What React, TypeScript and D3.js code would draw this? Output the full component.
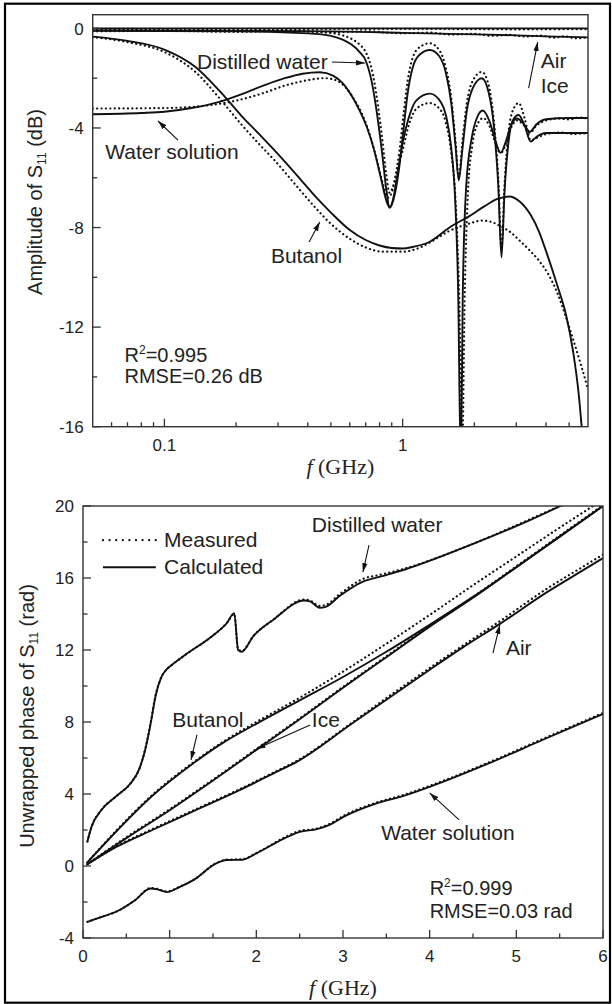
import * as d3 from 'd3'
import { useEffect, useRef } from 'react'

type Pt = [number, number]

// ---------- top panel: amplitude of S11 (dB) vs f (GHz, log axis)
const airAmpCalc: Pt[] = [[0.05, 0], [0.5, 0], [2, 0], [6, 0]]
const airAmpMeas: Pt[] = [[0.05, -0.02], [0.3, -0.03], [1, -0.02], [3, -0.04], [6, -0.03]]

const iceAmpCalc: Pt[] = [[0.05, -0.08], [0.2, -0.1], [0.5, -0.12], [1, -0.18], [2, -0.24], [3, -0.28], [4, -0.32], [6, -0.36]]
const iceAmpMeas: Pt[] = [
  [0.05, -0.12], [0.1, -0.1], [0.2, -0.14], [0.35, -0.1], [0.5, -0.16], [0.7, -0.12], [1, -0.2], [1.3, -0.17],
  [1.6, -0.25], [2, -0.22], [2.4, -0.3], [2.8, -0.26], [3.3, -0.33], [3.8, -0.29], [4.3, -0.37], [4.8, -0.32],
  [5.3, -0.4], [6, -0.36]
]

const distilledAmpCalc: Pt[] = [
  [0.05, -0.1], [0.2, -0.12], [0.4, -0.2], [0.5, -0.3], [0.56, -0.45], [0.61, -0.65], [0.66, -0.95], [0.7, -1.3],
  [0.74, -2.1], [0.78, -3.4], [0.82, -5.0], [0.855, -6.5], [0.88, -7.2], [0.93, -6.6], [0.97, -5.5], [1.01, -4.0],
  [1.05, -2.6], [1.1, -1.6], [1.18, -1.05], [1.3, -0.87], [1.42, -1.1], [1.52, -1.8], [1.6, -3.0], [1.67, -4.8],
  [1.72, -6.1], [1.78, -4.9], [1.86, -3.3], [1.97, -2.4], [2.15, -2.0], [2.3, -2.6], [2.42, -4.0], [2.52, -6.3],
  [2.6, -9.2], [2.68, -6.5], [2.78, -4.6], [2.9, -3.7], [3.07, -3.48], [3.25, -3.9], [3.45, -4.55], [3.65, -4.35],
  [4.0, -4.2], [5, -4.2], [6, -4.2]
]
const distilledAmpMeas: Pt[] = [
  [0.05, -0.05], [0.2, -0.08], [0.4, -0.12], [0.5, -0.18], [0.56, -0.28], [0.61, -0.42], [0.66, -0.65], [0.7, -0.95],
  [0.74, -1.6], [0.78, -2.8], [0.82, -4.4], [0.855, -5.9], [0.88, -6.6], [0.93, -6.0], [0.97, -4.9], [1.01, -3.4],
  [1.05, -2.1], [1.1, -1.2], [1.18, -0.75], [1.3, -0.6], [1.42, -0.85], [1.52, -1.6], [1.6, -2.8], [1.67, -4.6],
  [1.72, -6.0], [1.78, -4.6], [1.86, -3.0], [1.97, -2.1], [2.15, -1.75], [2.3, -2.3], [2.42, -3.8], [2.52, -6.0],
  [2.6, -8.8], [2.68, -6.2], [2.78, -4.2], [2.9, -3.3], [3.07, -3.0], [3.25, -3.6], [3.45, -4.5], [3.65, -4.4],
  [4.0, -4.25], [4.6, -4.18], [5.2, -4.24], [6, -4.2]
]

const waterAmpCalc: Pt[] = [
  [0.05, -3.45], [0.08, -3.4], [0.1, -3.35], [0.13, -3.2], [0.17, -2.95], [0.21, -2.65], [0.26, -2.3], [0.32, -2.0],
  [0.38, -1.82], [0.45, -1.76], [0.51, -1.9], [0.56, -2.2], [0.61, -2.7], [0.66, -3.3], [0.71, -4.0], [0.76, -4.9],
  [0.81, -6.0], [0.86, -7.0], [0.885, -7.2], [0.91, -6.9], [0.95, -5.9], [1.0, -4.6], [1.06, -3.6], [1.14, -2.9],
  [1.3, -2.62], [1.42, -2.85], [1.52, -3.5], [1.6, -4.8], [1.66, -6.8], [1.71, -10.5], [1.755, -17.5], [1.79, -10.5],
  [1.85, -6.3], [1.95, -4.4], [2.05, -3.6], [2.17, -3.3], [2.32, -3.75], [2.45, -4.5], [2.58, -5.0], [2.7, -4.6],
  [2.85, -3.9], [3.02, -3.62], [3.2, -3.8], [3.42, -4.15], [3.65, -3.85], [4.0, -3.65], [5, -3.6], [6, -3.6]
]
const waterAmpMeas: Pt[] = [
  [0.05, -3.22], [0.1, -3.2], [0.15, -3.1], [0.2, -2.9], [0.26, -2.6], [0.32, -2.3], [0.4, -2.08], [0.47, -2.0],
  [0.53, -2.1], [0.58, -2.4], [0.63, -2.9], [0.68, -3.5], [0.73, -4.3], [0.78, -5.3], [0.83, -6.3], [0.87, -6.8],
  [0.9, -6.6], [0.94, -5.9], [1.0, -4.9], [1.06, -3.9], [1.15, -3.2], [1.3, -3.0], [1.42, -3.2], [1.52, -3.8],
  [1.6, -5.0], [1.67, -7.0], [1.73, -11], [1.78, -17], [1.82, -11], [1.88, -6.6], [1.96, -4.7], [2.05, -3.9],
  [2.18, -3.6], [2.32, -3.95], [2.45, -4.6], [2.58, -5.0], [2.7, -4.7], [2.85, -4.0], [3.02, -3.7], [3.2, -3.85],
  [3.42, -4.2], [3.65, -3.9], [4, -3.7], [4.5, -3.62], [5, -3.66], [5.5, -3.58], [6, -3.62]
]

const butanolAmpCalc: Pt[] = [
  [0.05, -0.33], [0.07, -0.5], [0.1, -0.85], [0.135, -1.55], [0.17, -2.5], [0.21, -3.5], [0.25, -4.25], [0.29, -4.9],
  [0.36, -5.9], [0.43, -6.75], [0.5, -7.4], [0.6, -8.1], [0.7, -8.5], [0.8, -8.72], [0.9, -8.82], [1.0, -8.84],
  [1.1, -8.78], [1.3, -8.57], [1.6, -7.95], [1.9, -7.55], [2.2, -7.15], [2.5, -6.85], [2.8, -6.75], [3.1, -6.95],
  [3.45, -7.5], [3.75, -8.2], [4.05, -9.1], [4.45, -10.3], [4.85, -11.5], [5.2, -13.0], [5.5, -14.8], [5.7, -16.5],
  [6, -19]
]
const butanolAmpMeas: Pt[] = [
  [0.05, -0.35], [0.07, -0.55], [0.1, -0.95], [0.135, -1.75], [0.17, -2.8], [0.21, -3.85], [0.25, -4.65], [0.29, -5.3],
  [0.36, -6.35], [0.43, -7.2], [0.5, -7.85], [0.6, -8.45], [0.7, -8.8], [0.83, -8.97], [1.0, -8.97], [1.15, -8.85],
  [1.3, -8.6], [1.56, -8.15], [1.89, -7.85], [2.16, -7.72], [2.4, -7.8], [2.6, -7.97], [2.85, -8.2], [3.08, -8.5],
  [3.4, -8.9], [3.75, -9.35], [4.1, -9.9], [4.45, -10.6], [4.85, -11.6], [5.2, -12.5], [5.6, -13.5], [6, -14.5]
]

const ampMajor = [0, -4, -8, -12, -16]
const ampMinor = [-2, -6, -10, -14]
const logMajor = [0.1, 1]
const logMinor = [0.06, 0.07, 0.08, 0.09, 0.2, 0.3, 0.4, 0.5, 0.6, 0.7, 0.8, 0.9, 2, 3, 4, 5]

const ampLabels = [
  { text: 'Distilled water', f: 0.137, v: -1.63 },
  { text: 'Air', f: 3.8, v: -1.6 },
  { text: 'Ice', f: 3.8, v: -2.6 },
  { text: 'Water solution', f: 0.0564, v: -5.25 },
  { text: 'Butanol', f: 0.28, v: -9.43 }
]
const ampArrows: Pt[][] = [
  [[0.505, -1.35], [0.695, -1.39]],
  [[3.38, -2.4], [3.69, -0.55]],
  [[0.114, -4.49], [0.094, -3.72]],
  [[0.405, -8.58], [0.449, -7.78]]
]
const ampFit = { r2: '0.995', rmse: '0.26 dB', f: 0.068, v: -13.4 }

// ---------- bottom panel: unwrapped phase of S11 (rad) vs f (GHz)
const airPhaseCalc: Pt[] = [
  [0.05, 0.1], [0.39, 1.07], [0.8, 2.0], [1.3, 3.1], [1.8, 4.2], [2.2, 5.15], [2.47, 5.8], [3.1, 7.9], [3.55, 9.4],
  [4.0, 10.9], [4.4, 12.2], [4.81, 13.45], [5.35, 15.2], [5.69, 16.2], [6.0, 17.1]
]
const airPhaseMeas: Pt[] = [
  [0.05, 0.1], [0.39, 1.1], [0.8, 2.05], [1.3, 3.15], [1.8, 4.25], [2.2, 5.2], [2.47, 5.85], [3.1, 7.95], [3.55, 9.5],
  [4.0, 11.0], [4.4, 12.3], [4.81, 13.6], [5.35, 15.4], [5.69, 16.4], [6.0, 17.3]
]

const icePhaseCalc: Pt[] = [
  [0.05, 0.1], [0.5, 1.55], [1.0, 3.1], [1.5, 4.75], [2.0, 6.45], [2.5, 8.15], [3.0, 9.9], [3.5, 11.6], [4.0, 13.3],
  [4.5, 14.9], [5.0, 16.6], [5.5, 18.3], [6.0, 20.0]
]
const icePhaseMeas: Pt[] = [
  [0.05, 0.1], [0.5, 1.6], [1.0, 3.15], [1.5, 4.8], [2.0, 6.5], [2.5, 8.2], [3.0, 9.95], [3.5, 11.65], [4.0, 13.35],
  [4.5, 14.95], [5.0, 16.65], [5.5, 18.35], [6.0, 20.05]
]

const distilledPhaseCalc: Pt[] = [
  [0.05, 1.35], [0.1, 2.2], [0.21, 3.1], [0.39, 3.9], [0.55, 4.6], [0.65, 5.4], [0.72, 6.5], [0.78, 7.9], [0.84, 9.5],
  [0.9, 10.45], [0.96, 10.9], [1.02, 11.15], [1.2, 11.8], [1.47, 12.7], [1.66, 13.5], [1.745, 14.05], [1.79, 12.0],
  [1.83, 11.9], [1.97, 12.8], [2.2, 13.7], [2.55, 14.75], [2.62, 14.7], [2.73, 14.35], [2.8, 14.4], [2.96, 15.0],
  [3.23, 15.8], [3.45, 16.1], [3.73, 16.5], [4.45, 17.8], [5.15, 19.2], [5.55, 20.1]
]
const distilledPhaseMeas: Pt[] = [
  [0.05, 1.35], [0.1, 2.2], [0.21, 3.1], [0.39, 3.9], [0.55, 4.6], [0.65, 5.4], [0.72, 6.55], [0.78, 7.95], [0.84, 9.55],
  [0.9, 10.45], [0.96, 10.9], [1.02, 11.15], [1.2, 11.8], [1.47, 12.7], [1.66, 13.5], [1.745, 14.0], [1.79, 12.05],
  [1.83, 11.95], [1.97, 12.8], [2.2, 13.7], [2.55, 14.8], [2.62, 14.75], [2.73, 14.45], [2.8, 14.5], [2.96, 15.1],
  [3.23, 15.95], [3.45, 16.2], [3.73, 16.55], [4.45, 17.8], [5.15, 19.25], [5.55, 20.1]
]

const butanolPhaseCalc: Pt[] = [
  [0.05, 0.2], [0.4, 2.0], [0.8, 3.9], [1.27, 5.7], [1.6, 6.8], [2.0, 7.9], [2.5, 9.2], [3.0, 10.5], [3.5, 11.9],
  [4.0, 13.4], [4.5, 14.95], [5.0, 16.6], [5.5, 18.3], [6.0, 20.0]
]
const butanolPhaseMeas: Pt[] = [
  [0.05, 0.2], [0.4, 2.05], [0.8, 3.95], [1.27, 5.75], [1.6, 6.85], [2.0, 8.0], [2.5, 9.35], [3.0, 10.8], [3.5, 12.35],
  [4.0, 13.95], [4.5, 15.6], [5.0, 17.2], [5.5, 18.8], [5.9, 20.05]
]

const waterPhaseCalc: Pt[] = [
  [0.05, -3.1], [0.2, -2.85], [0.4, -2.5], [0.6, -1.9], [0.78, -1.25], [0.86, -1.3], [0.97, -1.45], [1.1, -1.2],
  [1.3, -0.7], [1.52, 0.1], [1.66, 0.33], [1.84, 0.35], [2.0, 0.7], [2.33, 1.55], [2.5, 1.9], [2.7, 2.05],
  [2.85, 2.3], [3.01, 2.74], [3.37, 3.45], [3.7, 3.9], [4.0, 4.4], [4.68, 5.7], [5.3, 7.0], [6.0, 8.45]
]
const waterPhaseMeas: Pt[] = [
  [0.05, -3.1], [0.2, -2.85], [0.4, -2.5], [0.6, -1.9], [0.78, -1.22], [0.86, -1.28], [0.97, -1.42], [1.1, -1.18],
  [1.3, -0.7], [1.52, 0.12], [1.66, 0.35], [1.84, 0.38], [2.0, 0.72], [2.33, 1.6], [2.5, 1.95], [2.7, 2.08],
  [2.85, 2.35], [3.01, 2.8], [3.37, 3.5], [3.7, 3.95], [4.0, 4.45], [4.68, 5.75], [5.3, 7.05], [6.0, 8.5]
]

const phaseMajor = [20, 16, 12, 8, 4, 0, -4]
const phaseMinor = [18, 14, 10, 6, 2, -2]
const freqMajor = [0, 1, 2, 3, 4, 5, 6]
const freqMinor = [0.5, 1.5, 2.5, 3.5, 4.5, 5.5]

const phaseLabels = [
  { text: 'Distilled water', f: 2.64, v: 18.56 },
  { text: 'Butanol', f: 1.03, v: 7.72 },
  { text: 'Ice', f: 2.64, v: 7.72 },
  { text: 'Air', f: 4.88, v: 11.72 },
  { text: 'Water solution', f: 3.44, v: 1.44 }
]
const phaseArrows: Pt[][] = [
  [[3.3, 17.83], [3.23, 16.33]],
  [[1.315, 7.28], [1.246, 5.89]],
  [[2.62, 7.83], [2.0, 6.5]],
  [[4.73, 11.83], [4.81, 13.39]],
  [[4.34, 2.56], [4.0, 4.06]]
]
const phaseFit = { r2: '0.999', rmse: '0.03 rad', f: 4.0, v: -1.61 }
const legendItems = ['Measured', 'Calculated']

const SANS = '"Liberation Sans", Arial, Helvetica, sans-serif'
const SERIF = '"Liberation Serif", "Times New Roman", serif'
const INK = '#111'

export default function App() {
  const ref = useRef<SVGSVGElement>(null)

  useEffect(() => {
    const svg = d3.select(ref.current)
    svg.selectAll('*').remove()

    svg
      .append('defs')
      .append('marker')
      .attr('id', 'head')
      .attr('viewBox', '0 0 10 6')
      .attr('refX', 10)
      .attr('refY', 3)
      .attr('markerUnits', 'userSpaceOnUse')
      .attr('markerWidth', 9)
      .attr('markerHeight', 6)
      .attr('orient', 'auto')
      .append('path')
      .attr('d', 'M0,0 L10,3 L0,6 z')
      .attr('fill', INK)

    // outer frame
    svg
      .append('rect')
      .attr('x', 5)
      .attr('y', 3.7)
      .attr('width', 605)
      .attr('height', 999)
      .attr('fill', 'none')
      .attr('stroke', '#000')
      .attr('stroke-width', 2.2)

    const drawPanel = (opts: any) => {
      const { x, y, calc, meas, id, yMajor, yMinor, xMajor, xMinor, xFmt } = opts
      const [x0, x1] = x.range()
      const [yb, yt] = y.range()
      const g = svg.append('g')

      g.append('clipPath')
        .attr('id', id)
        .append('rect')
        .attr('x', x0)
        .attr('y', yt)
        .attr('width', x1 - x0)
        .attr('height', yb - yt)

      const line = d3
        .line<Pt>()
        .x((d) => x(d[0]))
        .y((d) => y(d[1]))
        .curve(d3.curveMonotoneX)

      const area = g.append('g').attr('clip-path', `url(#${id})`)
      meas.forEach((s: Pt[]) => {
        area
          .append('path')
          .datum(s)
          .attr('d', line)
          .attr('fill', 'none')
          .attr('stroke', INK)
          .attr('stroke-width', 2.2)
          .attr('stroke-linecap', 'round')
          .attr('stroke-dasharray', '0.1 4.3')
      })
      calc.forEach((s: Pt[]) => {
        area
          .append('path')
          .datum(s)
          .attr('d', line)
          .attr('fill', 'none')
          .attr('stroke', INK)
          .attr('stroke-width', 1.9)
      })

      g.append('rect')
        .attr('x', x0)
        .attr('y', yt)
        .attr('width', x1 - x0)
        .attr('height', yb - yt)
        .attr('fill', 'none')
        .attr('stroke', '#333')
        .attr('stroke-width', 1.4)

      const tick = (x1_: number, y1_: number, x2_: number, y2_: number) =>
        g.append('line')
          .attr('x1', x1_).attr('y1', y1_).attr('x2', x2_).attr('y2', y2_)
          .attr('stroke', '#333').attr('stroke-width', 1.3)

      yMajor.forEach((v: number) => tick(x0, y(v), x0 + 8, y(v)))
      yMinor.forEach((v: number) => tick(x0, y(v), x0 + 4.5, y(v)))
      xMajor.forEach((v: number) => tick(x(v), yb, x(v), yb - 8))
      xMinor.forEach((v: number) => tick(x(v), yb, x(v), yb - 4.5))

      g.selectAll('.ylab')
        .data(yMajor)
        .enter()
        .append('text')
        .attr('x', x0 - 9)
        .attr('y', (d: number) => y(d))
        .attr('dy', '0.36em')
        .attr('text-anchor', 'end')
        .attr('font-family', SANS)
        .attr('font-size', 17)
        .attr('fill', '#222')
        .text((d: number) => String(d))

      g.selectAll('.xlab')
        .data(opts.xLabels)
        .enter()
        .append('text')
        .attr('x', (d: number) => x(d))
        .attr('y', yb + 24)
        .attr('text-anchor', 'middle')
        .attr('font-family', SANS)
        .attr('font-size', 17)
        .attr('fill', '#222')
        .text(xFmt)

      // x title
      const xt = g.append('text')
        .attr('x', (x0 + x1) / 2)
        .attr('y', yb + opts.xTitleDy)
        .attr('text-anchor', 'middle')
        .attr('font-family', SERIF)
        .attr('font-size', 22)
        .attr('fill', '#222')
      xt.append('tspan').attr('font-style', 'italic').text('f')
      xt.append('tspan').text(' (GHz)')

      // y title
      const yt_ = g.append('text')
        .attr('transform', `translate(${opts.yTitleX},${opts.yTitleY}) rotate(-90)`)
        .attr('text-anchor', 'middle')
        .attr('dy', '0.35em')
        .attr('font-family', SANS)
        .attr('font-size', 20)
        .attr('fill', '#222')
      yt_.append('tspan').text(opts.yTitle[0])
      yt_.append('tspan').attr('font-size', 12).attr('dy', 4).text('11')
      yt_.append('tspan').attr('dy', -4).text('\u00a0' + opts.yTitle[1])

      // labels and arrows
      opts.labels.forEach((l: any) => {
        g.append('text')
          .attr('x', x(l.f))
          .attr('y', y(l.v))
          .attr('font-family', SANS)
          .attr('font-size', 21)
          .attr('fill', '#222')
          .text(l.text)
      })
      opts.arrows.forEach((a: Pt[]) => {
        g.append('line')
          .attr('x1', x(a[0][0]))
          .attr('y1', y(a[0][1]))
          .attr('x2', x(a[1][0]))
          .attr('y2', y(a[1][1]))
          .attr('stroke', INK)
          .attr('stroke-width', 1.1)
          .attr('marker-end', 'url(#head)')
      })

      // fit statistics
      const fit = opts.fit
      const r2 = g.append('text')
        .attr('x', x(fit.f))
        .attr('y', y(fit.v))
        .attr('font-family', SANS)
        .attr('font-size', 20)
        .attr('fill', '#222')
      r2.append('tspan').text('R')
      r2.append('tspan').attr('font-size', 12).attr('dy', -8).text('2')
      r2.append('tspan').attr('dy', 8).text('=' + fit.r2)
      g.append('text')
        .attr('x', x(fit.f))
        .attr('y', y(fit.v) + opts.fitGap)
        .attr('font-family', SANS)
        .attr('font-size', 20)
        .attr('fill', '#222')
        .text('RMSE=' + fit.rmse)
    }

    // top panel
    const xAmp = d3.scaleLog().domain([0.05, 6]).range([92.7, 588])
    const yAmp = d3.scaleLinear().domain([-16, 0.55]).range([426.7, 14.7])
    drawPanel({
      id: 'clip-amp',
      x: xAmp,
      y: yAmp,
      calc: [airAmpCalc, iceAmpCalc, distilledAmpCalc, waterAmpCalc, butanolAmpCalc],
      meas: [airAmpMeas, iceAmpMeas, distilledAmpMeas, waterAmpMeas, butanolAmpMeas],
      yMajor: ampMajor,
      yMinor: ampMinor,
      xMajor: logMajor,
      xMinor: logMinor,
      xLabels: logMajor,
      xFmt: (d: number) => String(d),
      xTitleDy: 47,
      yTitleX: 35,
      yTitleY: 202,
      yTitle: ['Amplitude of S', '(dB)'],
      labels: ampLabels,
      arrows: ampArrows,
      fit: ampFit,
      fitGap: 21
    })

    // bottom panel
    const xPh = d3.scaleLinear().domain([0, 6]).range([83, 603])
    const yPh = d3.scaleLinear().domain([-4, 20]).range([938, 506])
    drawPanel({
      id: 'clip-phase',
      x: xPh,
      y: yPh,
      calc: [airPhaseCalc, icePhaseCalc, distilledPhaseCalc, butanolPhaseCalc, waterPhaseCalc],
      meas: [airPhaseMeas, icePhaseMeas, distilledPhaseMeas, butanolPhaseMeas, waterPhaseMeas],
      yMajor: phaseMajor,
      yMinor: phaseMinor,
      xMajor: freqMajor,
      xMinor: freqMinor,
      xLabels: freqMajor,
      xFmt: (d: number) => String(d),
      xTitleDy: 57,
      yTitleX: 27,
      yTitleY: 716,
      yTitle: ['Unwrapped phase of S', '(rad)'],
      labels: phaseLabels,
      arrows: phaseArrows,
      fit: phaseFit,
      fitGap: 23
    })

    // legend (bottom panel)
    const leg = svg.append('g')
    legendItems.forEach((name, i) => {
      const ly = yPh(18.1) + i * 27
      leg.append('line')
        .attr('x1', xPh(0.23))
        .attr('x2', xPh(0.84))
        .attr('y1', ly)
        .attr('y2', ly)
        .attr('stroke', INK)
        .attr('stroke-width', i === 0 ? 2.2 : 1.9)
        .attr('stroke-linecap', i === 0 ? 'round' : 'butt')
        .attr('stroke-dasharray', i === 0 ? '0.1 6.5' : null)
      leg.append('text')
        .attr('x', xPh(0.935))
        .attr('y', ly + 7)
        .attr('font-family', SANS)
        .attr('font-size', 21)
        .attr('fill', '#222')
        .text(name)
    })
  }, [])

  return (
    <svg
      ref={ref}
      width={612}
      height={1004}
      style={{ position: 'absolute', left: 0, top: 0, background: '#fff' }}
    />
  )
}
